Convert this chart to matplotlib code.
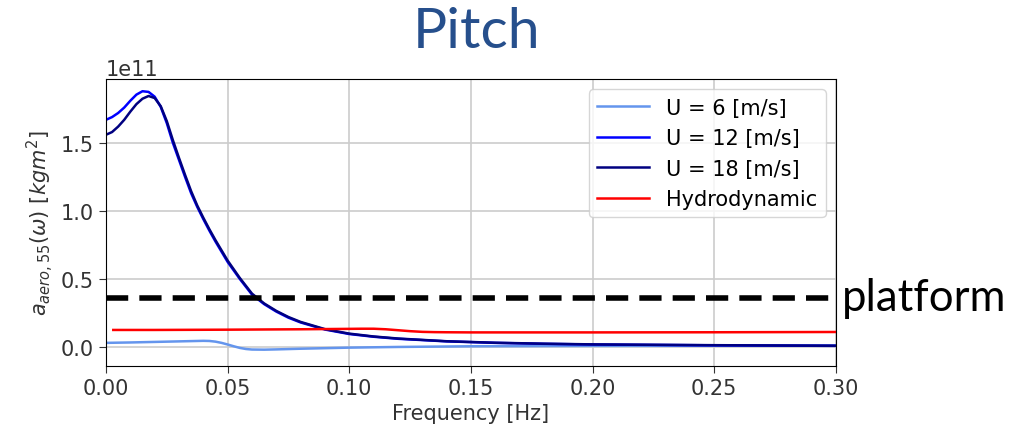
import matplotlib
matplotlib.use("Agg")
import matplotlib.pyplot as plt
import numpy as np

# frequencies [Hz] and added mass values (units of 1e11 kgm^2)
freq_aero = [0.0, 0.0025, 0.005, 0.0075, 0.01, 0.0125, 0.015, 0.0175, 0.02, 0.0225,
             0.025, 0.0275, 0.03, 0.0325, 0.035, 0.0375, 0.04, 0.0425, 0.045, 0.0475,
             0.05, 0.055, 0.06, 0.065, 0.07, 0.075, 0.08, 0.09, 0.1, 0.11, 0.12,
             0.14, 0.16, 0.18, 0.2, 0.25, 0.3]
u12 = [1.67, 1.69, 1.72, 1.76, 1.81, 1.855, 1.88, 1.875, 1.84, 1.765,
       1.645, 1.50, 1.375, 1.25, 1.13, 1.03, 0.94, 0.855, 0.775, 0.70,
       0.625, 0.50, 0.385, 0.315, 0.26, 0.215, 0.18, 0.128, 0.095, 0.075, 0.06,
       0.041, 0.03, 0.023, 0.018, 0.012, 0.008]
u18 = [1.56, 1.58, 1.62, 1.67, 1.73, 1.785, 1.825, 1.845, 1.83, 1.77,
       1.66, 1.52, 1.39, 1.265, 1.145, 1.04, 0.95, 0.865, 0.785, 0.71,
       0.635, 0.507, 0.392, 0.32, 0.265, 0.22, 0.184, 0.131, 0.098, 0.077, 0.062,
       0.042, 0.031, 0.024, 0.019, 0.013, 0.009]

freq_u6 = [0.0, 0.01, 0.02, 0.03, 0.035, 0.04, 0.0425, 0.045, 0.0475, 0.05, 0.0525,
           0.055, 0.0575, 0.06, 0.065, 0.07, 0.08, 0.09, 0.1, 0.12, 0.15, 0.2, 0.3]
u6 = [0.03, 0.033, 0.037, 0.041, 0.043, 0.045, 0.044, 0.039, 0.03, 0.018, 0.005,
      -0.007, -0.015, -0.019, -0.02, -0.018, -0.013, -0.009, -0.005, 0.0, 0.005, 0.008, 0.01]

freq_hydro = [0.003, 0.02, 0.05, 0.08, 0.1, 0.105, 0.11, 0.115, 0.12, 0.125, 0.13,
              0.135, 0.14, 0.15, 0.2, 0.25, 0.3]
hydro = [0.125, 0.125, 0.127, 0.13, 0.133, 0.134, 0.134, 0.13, 0.123, 0.116, 0.111,
         0.109, 0.108, 0.107, 0.107, 0.108, 0.11]

platform = 0.36
scale = 1e11

fig = plt.figure(figsize=(10.31, 4.31), dpi=100)
ax = fig.add_axes([0.1028, 0.1485, 0.708, 0.6659])

ax.plot(freq_u6, np.array(u6) * scale, color='cornflowerblue', lw=1.8, label='U = 6 [m/s]')
ax.plot(freq_aero, np.array(u12) * scale, color='blue', lw=1.8, label='U = 12 [m/s]')
ax.plot(freq_aero, np.array(u18) * scale, color='navy', lw=1.8, label='U = 18 [m/s]')
ax.plot(freq_hydro, np.array(hydro) * scale, color='red', lw=1.8, label='Hydrodynamic')
ax.axhline(platform * scale, color='black', lw=4, ls=(0, (4, 2)))

ax.set_xlim(0, 0.3)
ax.set_ylim(-0.14 * scale, 1.97 * scale)
ax.set_xticks(np.arange(0, 0.301, 0.05))
ax.grid(True, color='#cccccc', lw=1.2)
ax.tick_params(labelsize=15, colors='#333333', length=5)
ax.yaxis.get_offset_text().set_fontsize(15)
ax.set_xlabel('Frequency [Hz]', fontsize=15, color='#333333')
ax.set_ylabel(r'$a_{aero,55}(\omega)\ [kgm^2]$', fontsize=15, color='#333333')
ax.legend(loc='upper right', fontsize=15, handlelength=2.5)

ax.text(1.008, platform * scale, 'platform', transform=ax.get_yaxis_transform(),
        fontsize=31.5, va='center', ha='left', family='Lato', clip_on=False)
fig.text(0.462, 0.925, 'Pitch', fontsize=41, color='#264F8C', family='Lato',
         ha='center', va='center')

fig.savefig('out.png', dpi=100)
